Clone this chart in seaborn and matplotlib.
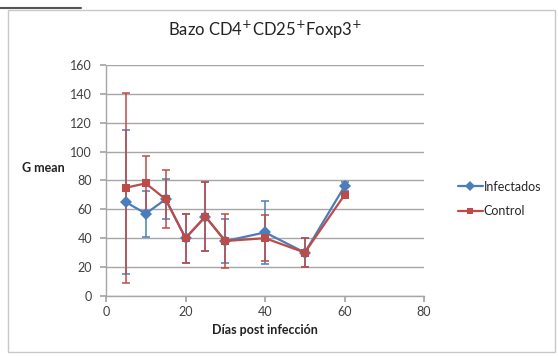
import matplotlib
matplotlib.use("Agg")
import matplotlib.pyplot as plt
import seaborn as sns
import pandas as pd
from matplotlib.patches import Rectangle

dias = [5, 10, 15, 20, 25, 30, 40, 50, 60]
infectados = [65, 57, 67, 40, 55, 38, 44, 30, 76]
infectados_err = [50, 16, 14, 17, 24, 15, 22, 10, 3]
control = [75, 78, 67, 40, 55, 38, 40, 30, 70]
control_err = [66, 19, 20, 17, 24, 19, 16, 10, 2]

sns.set_theme(style="white")
plt.rcParams['font.family'] = ['Lato', 'DejaVu Sans']

df = pd.DataFrame({
    'dias': dias * 2,
    'valor': infectados + control,
    'grupo': ['Infectados'] * len(dias) + ['Control'] * len(dias),
})

blue = '#4A7EBB'
red = '#BE4B48'

fig = plt.figure(figsize=(5.58, 3.56), dpi=100)
ax = fig.add_axes([0.19, 0.169, 0.57, 0.648])

ax.errorbar(dias, infectados, yerr=infectados_err, fmt='none', ecolor=blue,
            elinewidth=1.1, capsize=3, capthick=1.1, zorder=2)
ax.errorbar(dias, control, yerr=control_err, fmt='none', ecolor=red,
            elinewidth=1.1, capsize=3, capthick=1.1, zorder=2)

sns.lineplot(data=df, x='dias', y='valor', hue='grupo', style='grupo',
             palette={'Infectados': blue, 'Control': red},
             markers={'Infectados': 'D', 'Control': 's'}, dashes=False,
             markersize=6, linewidth=1.6, markeredgewidth=0, ax=ax, zorder=3)

ax.set_xlim(0, 80)
ax.set_ylim(0, 160)
ax.set_xticks([0, 20, 40, 60, 80])
ax.set_yticks(range(0, 161, 20))
ax.yaxis.grid(True, color='#A6A6A6', linewidth=1)
ax.xaxis.grid(False)
for s in ['top', 'right']:
    ax.spines[s].set_visible(False)
for s in ['left', 'bottom']:
    ax.spines[s].set_color('#A6A6A6')
    ax.spines[s].set_linewidth(1)
ax.tick_params(axis='both', which='both', direction='out', length=4,
               color='#A6A6A6', labelsize=9, labelcolor='#404040',
               left=True, bottom=True)
ax.tick_params(axis='y', pad=6)
ax.set_axisbelow(True)

ax.set_xlabel('Días post infección', fontsize=9, fontweight='bold', color='#222222', labelpad=4)
ax.set_ylabel('G mean', fontsize=9, fontweight='bold', color='#222222', rotation=0,
              ha='right', va='center')
ax.yaxis.set_label_coords(-0.13, 0.554)
ax.set_title('Bazo CD4$^{+}$CD25$^{+}$Foxp3$^{+}$', fontsize=12, color='#222222', pad=21)

handles, labels = ax.get_legend_handles_labels()
ax.legend(handles, labels, loc='center left', bbox_to_anchor=(1.07, 0.42),
          frameon=False, fontsize=9, handlelength=2.0, handletextpad=0.1,
          labelspacing=1.0, markerscale=0.8)

fig.patches.append(Rectangle((0.015, 0.01), 0.98, 0.962, transform=fig.transFigure,
                             fill=False, edgecolor='#C8C8C8', linewidth=1))
fig.lines.append(matplotlib.lines.Line2D([0.0, 0.145], [0.978, 0.978], transform=fig.transFigure,
                                         color='#555555', linewidth=1.5))

fig.savefig('out.png', dpi=100)
